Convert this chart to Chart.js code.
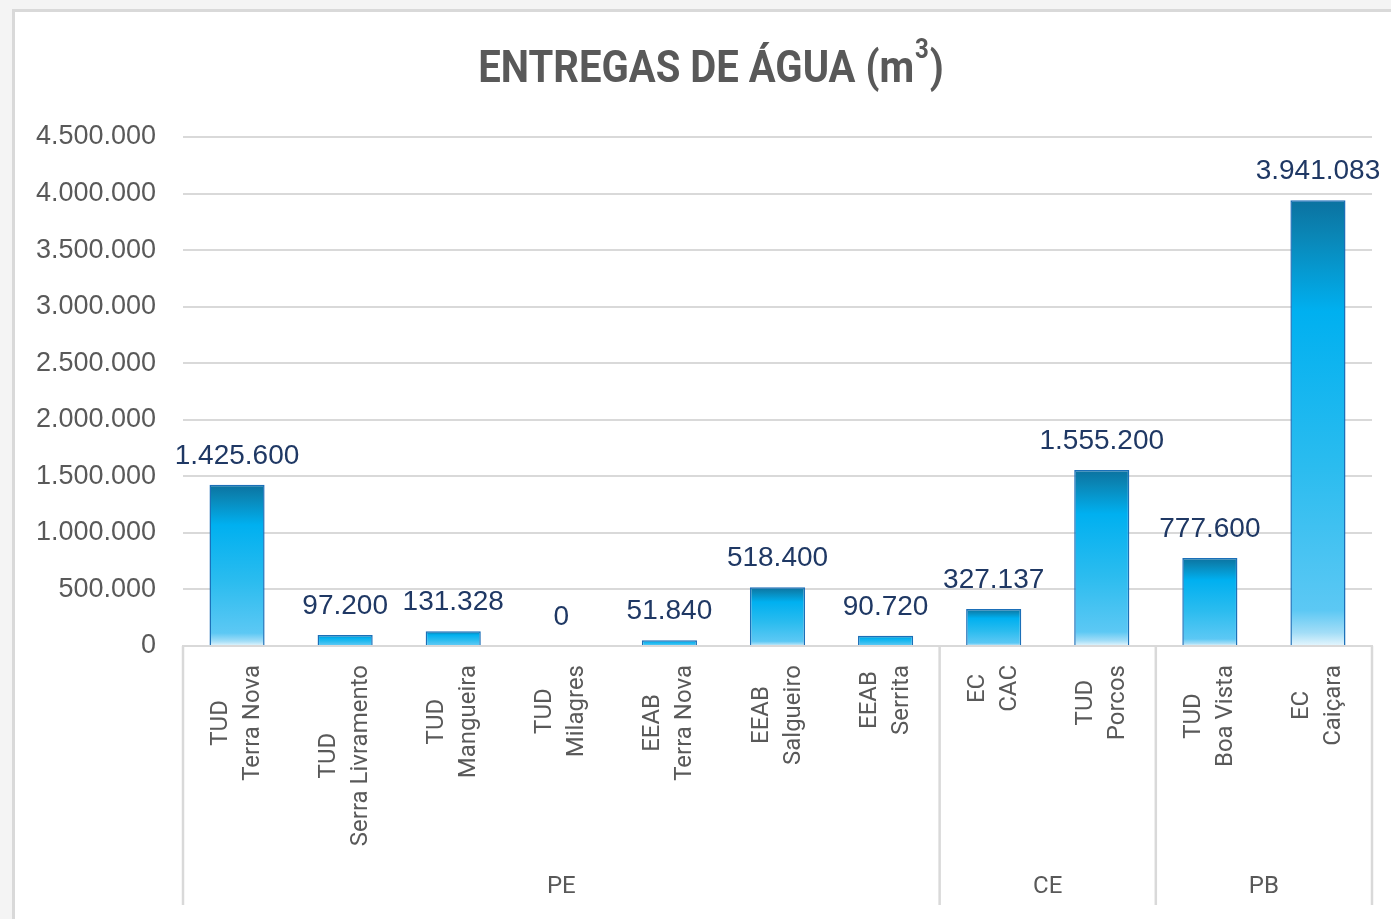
<!DOCTYPE html>
<html lang="pt">
<head>
  <meta charset="UTF-8" />
  <title>Entregas de Água</title>
  <script src="https://cdn.jsdelivr.net/npm/chart.js"></script>
  <style>
    * { margin: 0; padding: 0; box-sizing: border-box; }
    body {
      width: 1391px;
      height: 919px;
      background: #f4f4f4;
      overflow: hidden;
      position: relative;
    }
    .box {
      position: absolute;
      left: 12px;
      top: 9px;
      width: 1400px;
      height: 930px;
      background: #ffffff;
      border-left: 3px solid #d9d9d9;
      border-top: 3px solid #d9d9d9;
    }
    canvas {
      position: absolute;
      left: 0;
      top: 0;
    }
  </style>
</head>
<body>
  <div class="box"></div>
  <canvas id="aguaChart" width="1391" height="919"></canvas>

  <script>
    // dados
    const categorias = [
      ['TUD', 'Terra Nova'],
      ['TUD', 'Serra Livramento'],
      ['TUD', 'Mangueira'],
      ['TUD', 'Milagres'],
      ['EEAB', 'Terra Nova'],
      ['EEAB', 'Salgueiro'],
      ['EEAB', 'Serrita'],
      ['EC', 'CAC'],
      ['TUD', 'Porcos'],
      ['TUD', 'Boa Vista'],
      ['EC', 'Caiçara']
    ];
    const entregas = [1425600, 97200, 131328, 0, 51840, 518400, 90720, 327137, 1555200, 777600, 3941083];
    const estados = ['PE', 'CE', 'PB'];
    const qtdPorEstado = [7, 2, 2];
    const eixoY = { min: 0, max: 4500000, passo: 500000 };

    function formatar(v) {
      return String(Math.round(v)).replace(/\B(?=(\d{3})+(?!\d))/g, '.');
    }

    function gradienteBarra(context) {
      const chart = context.chart;
      const y = chart.scales.y;
      if (!chart.chartArea || !y) return '#00b0f0';
      const topo = y.getPixelForValue(context.raw);
      const base = y.getPixelForValue(0);
      if (base - topo < 1) return '#00b0f0';
      const g = chart.ctx.createLinearGradient(0, topo, 0, base);
      g.addColorStop(0, '#0b72a0');
      g.addColorStop(0.08, '#0a86b6');
      g.addColorStop(0.25, '#00b0f0');
      g.addColorStop(0.6, '#2bbcef');
      g.addColorStop(0.92, '#5cc8f4');
      g.addColorStop(0.97, '#a2ddf7');
      g.addColorStop(1, '#e6f6fd');
      return g;
    }

    const rotulosPlugin = {
      id: 'rotulos',
      afterDraw(chart) {
        const ctx = chart.ctx;
        const x = chart.scales.x;
        const area = chart.chartArea;
        const meta = chart.getDatasetMeta(0);

        // título
        ctx.save();
        ctx.fillStyle = '#595959';
        ctx.textBaseline = 'alphabetic';
        const fTit = 'bold 45px Roboto';
        const fSup = 'bold 27px Roboto';
        ctx.font = fTit;
        const p1 = 'ENTREGAS DE ÁGUA (m';
        const w1 = ctx.measureText(p1).width;
        const w3 = ctx.measureText(')').width;
        ctx.font = fSup;
        const w2 = ctx.measureText('3').width + 2;
        const escala = 0.89;
        const total = (w1 + w2 + w3) * escala;
        ctx.translate(711 - total / 2, 82);
        ctx.scale(escala, 1);
        ctx.font = fTit;
        ctx.fillText(p1, 0, 0);
        ctx.font = fSup;
        ctx.fillText('3', w1 + 1, -24);
        ctx.font = fTit;
        ctx.fillText(')', w1 + w2, 0);
        ctx.restore();

        // valores acima das barras
        ctx.save();
        ctx.fillStyle = '#1f3864';
        ctx.font = '28px "Liberation Sans", Arial, sans-serif';
        ctx.textAlign = 'center';
        ctx.textBaseline = 'alphabetic';
        meta.data.forEach((bar, i) => {
          ctx.fillText(formatar(entregas[i]), bar.x, bar.y - 21);
        });
        ctx.restore();

        // categorias giradas
        ctx.save();
        ctx.fillStyle = '#595959';
        ctx.font = '24px Roboto';
        ctx.textAlign = 'center';
        ctx.textBaseline = 'middle';
        categorias.forEach((linhas, i) => {
          const cx = x.getPixelForValue(i);
          const maxW = Math.max(...linhas.map(l => ctx.measureText(l).width));
          ctx.save();
          ctx.translate(cx, area.bottom + 19 + maxW / 2);
          ctx.rotate(-Math.PI / 2);
          linhas.forEach((l, j) => {
            ctx.fillText(l, 0, (j - (linhas.length - 1) / 2) * 32);
          });
          ctx.restore();
        });
        ctx.restore();

        // estados e separadores
        ctx.save();
        const larg = x.getPixelForValue(1) - x.getPixelForValue(0);
        ctx.strokeStyle = '#d9d9d9';
        ctx.lineWidth = 2.5;
        ctx.fillStyle = '#595959';
        ctx.font = '24px Roboto';
        ctx.textAlign = 'center';
        ctx.textBaseline = 'middle';
        let ini = 0;
        const linhaV = px => {
          ctx.beginPath();
          ctx.moveTo(px, area.bottom);
          ctx.lineTo(px, 905);
          ctx.stroke();
        };
        linhaV(x.getPixelForValue(0) - larg / 2);
        estados.forEach((e, k) => {
          const fim = ini + qtdPorEstado[k] - 1;
          const esq = x.getPixelForValue(ini) - larg / 2;
          const dir = x.getPixelForValue(fim) + larg / 2;
          ctx.fillText(e, (esq + dir) / 2, 887);
          linhaV(dir);
          ini = fim + 1;
        });
        ctx.restore();
      }
    };

    const chart = new Chart(document.getElementById('aguaChart'), {
      type: 'bar',
      data: {
        labels: categorias.map(c => c.join(' ')),
        datasets: [{
          label: 'Entregas de água (m³)',
          data: entregas,
          backgroundColor: gradienteBarra,
          borderColor: '#1b6fb8',
          borderWidth: 1.5,
          categoryPercentage: 1,
          barPercentage: 0.51
        }]
      },
      options: {
        responsive: false,
        devicePixelRatio: 1,
        animation: false,
        layout: { padding: { top: 137, right: 19, bottom: 0, left: 0 } },
        plugins: {
          legend: { display: false },
          title: { display: false },
          tooltip: { enabled: false }
        },
        scales: {
          x: {
            ticks: { display: false },
            grid: { display: false },
            border: { color: '#d9d9d9', width: 2 },
            afterFit: s => { s.height = 273; }
          },
          y: {
            min: eixoY.min,
            max: eixoY.max,
            ticks: {
              stepSize: eixoY.passo,
              color: '#595959',
              padding: 27,
              font: { family: '"Liberation Sans", Arial, sans-serif', size: 27 },
              callback: v => formatar(v)
            },
            grid: { color: '#d9d9d9', lineWidth: 2, drawTicks: false },
            border: { display: false },
            afterFit: s => { s.width = 183; }
          }
        }
      },
      plugins: [rotulosPlugin]
    });
  </script>
</body>
</html>
